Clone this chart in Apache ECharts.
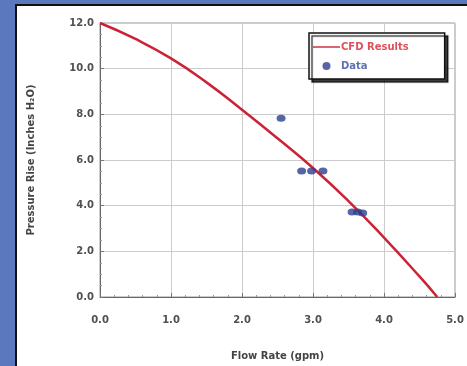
<!DOCTYPE html>
<html><head><meta charset="utf-8">
<script src="https://cdn.jsdelivr.net/npm/echarts@6/dist/echarts.min.js"></script>
<style>
html,body{margin:0;padding:0;width:467px;height:366px;overflow:hidden;background:#5b77be;}
#panel{position:absolute;left:15px;top:4px;width:460px;height:370px;background:#fff;border-left:2px solid #111;border-top:2px solid #111;box-sizing:border-box;}
#chart{position:absolute;left:0;top:0;width:467px;height:366px;}
</style></head>
<body><div id="panel"></div><div id="chart"></div>
<script>
const xTicks = [0, 1, 2, 3, 4, 5];
const yTicks = [0, 2, 4, 6, 8, 10, 12];
const cfdX = [0.0, 0.5, 1.0, 1.5, 2.0, 2.5, 3.0, 3.5, 4.0, 4.5, 4.75];
const cfdY = [12.0, 11.3, 10.45, 9.4, 8.2, 6.95, 5.65, 4.2, 2.6, 0.9, 0.0];
const dataX = [2.55, 2.84, 2.98, 3.14, 3.55, 3.63, 3.70];
const dataY = [7.83, 5.52, 5.52, 5.52, 3.72, 3.72, 3.68];

const FONT = 'DejaVu Sans, Verdana, sans-serif';
const chart = echarts.init(document.getElementById('chart'), null, {renderer:'canvas'});
const lab = {color:'#505050', fontFamily:FONT, fontWeight:'bold', fontSize:10};
chart.setOption({
  backgroundColor:'transparent',
  animation:false,
  grid:{left:100, right:12, top:23, bottom:69, show:true, borderColor:'#999', borderWidth:1},
  legend:{
    orient:'vertical', left:309, top:33,
    padding:[9,36,8,4], itemGap:9,
    backgroundColor:'#fff', borderColor:'#111', borderWidth:1.5,
    shadowColor:'rgba(0,0,0,0.75)', shadowOffsetX:3, shadowOffsetY:3, shadowBlur:1,
    itemWidth:27, itemHeight:8,
    textStyle:{fontFamily:FONT, fontWeight:'bold', fontSize:10, padding:[0,0,0,-4]},
    data:[
      {name:'CFD Results', icon:'path://M0,3.3L27,3.3L27,4.7L0,4.7Z', textStyle:{color:'#e0505c'}},
      {name:'Data', icon:'circle', textStyle:{color:'#6070b0'}}
    ]
  },
  xAxis:{
    type:'value', min:0, max:5, interval:1,
    name:'Flow Rate (gpm)', nameLocation:'middle', nameGap:54,
    nameTextStyle:Object.assign({}, lab, {fontSize:10, color:'#444'}),
    axisLine:{show:true, lineStyle:{color:'#666', width:1}},
    axisTick:{show:true, inside:true, length:4, lineStyle:{color:'#777'}},
    minorTick:{show:true, splitNumber:5, length:2, lineStyle:{color:'#999'}},
    splitLine:{show:true, lineStyle:{color:'#cccccc', width:1}},
    axisLabel:Object.assign({}, lab, {margin:18, formatter:v=>v.toFixed(1)})
  },
  yAxis:{
    type:'value', min:0, max:12, interval:2,
    name:'Pressure Rise (Inches H₂O)', nameLocation:'middle', nameGap:64,
    nameTextStyle:Object.assign({}, lab, {fontSize:10, color:'#444'}),
    axisLine:{show:true, lineStyle:{color:'#666', width:1}},
    axisTick:{show:true, inside:true, length:4, lineStyle:{color:'#777'}},
    minorTick:{show:true, splitNumber:4, length:2, lineStyle:{color:'#999'}},
    splitLine:{show:true, lineStyle:{color:'#cccccc', width:1}},
    axisLabel:Object.assign({}, lab, {margin:6, formatter:v=>v.toFixed(1)})
  },
  series:[
    {name:'CFD Results', type:'line', smooth:true, symbol:'none',
     lineStyle:{color:'#cc2236', width:2.5}, itemStyle:{color:'#cc2236'},
     data:cfdX.map((x,i)=>[x, cfdY[i]]), z:3},
    {name:'Data', type:'scatter', symbol:'circle', symbolSize:[9,7],
     itemStyle:{color:'#2c3f8c'}, data:dataX.map((x,i)=>[x, dataY[i]]), z:4}
  ]
});
</script></body></html>
